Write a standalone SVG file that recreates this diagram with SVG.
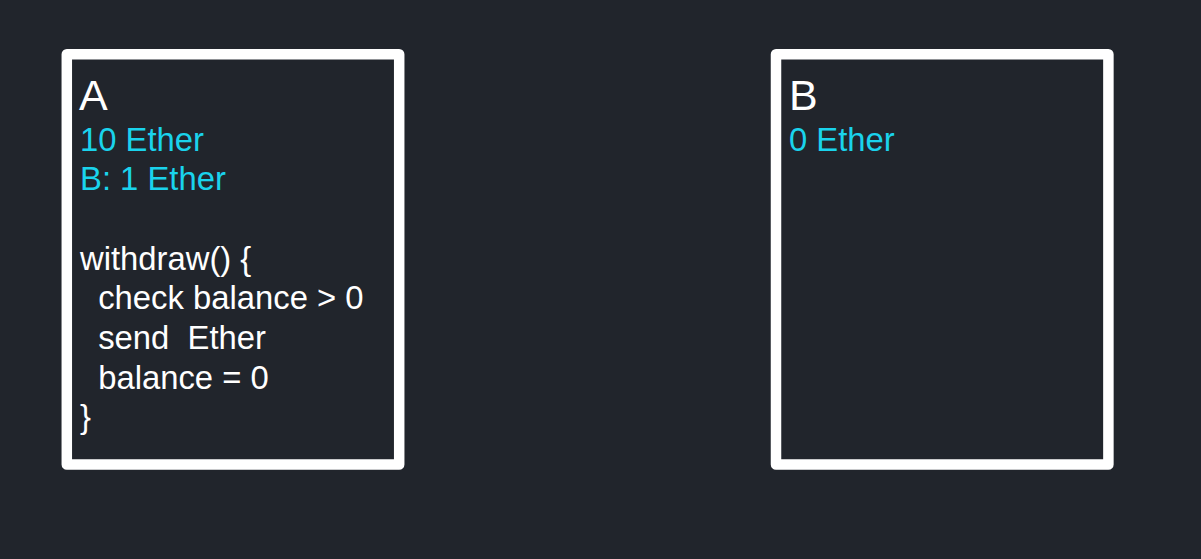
<svg xmlns="http://www.w3.org/2000/svg" width="1201" height="559" viewBox="0 0 1201 559">
<style>
.box{fill:#21252c;stroke:#ffffff;stroke-width:10.5;stroke-linejoin:round}
.t{font-family:"Liberation Sans",Arial,sans-serif;fill:#ffffff;white-space:pre}
.title{font-size:43px}
.body{font-size:32.8px}
.cy{fill:#1ad3ec}
</style>
<rect width="1201" height="559" fill="#21252c"/>
<g id="nodeA">
<rect class="box" x="66.8" y="54.2" width="332.4" height="410.4"/>
<text class="t title" x="79" y="110">A</text>
<text class="t body cy" x="80" y="151">10 Ether</text>
<text class="t body cy" x="80" y="190">B: 1 Ether</text>
<text class="t body" x="80" y="270">withdraw() {</text>
<text class="t body" x="80" y="309" xml:space="preserve">  check balance &gt; 0</text>
<text class="t body" x="80" y="349" xml:space="preserve">  send  Ether</text>
<text class="t body" x="80" y="389" xml:space="preserve">  balance = 0</text>
<text class="t body" x="80" y="428">}</text>
</g>
<g id="nodeB">
<rect class="box" x="776" y="54.2" width="332.4" height="410.4"/>
<text class="t title" x="789" y="110">B</text>
<text class="t body cy" x="789" y="151">0 Ether</text>
</g>
<g id="connectors"></g>
</svg>
